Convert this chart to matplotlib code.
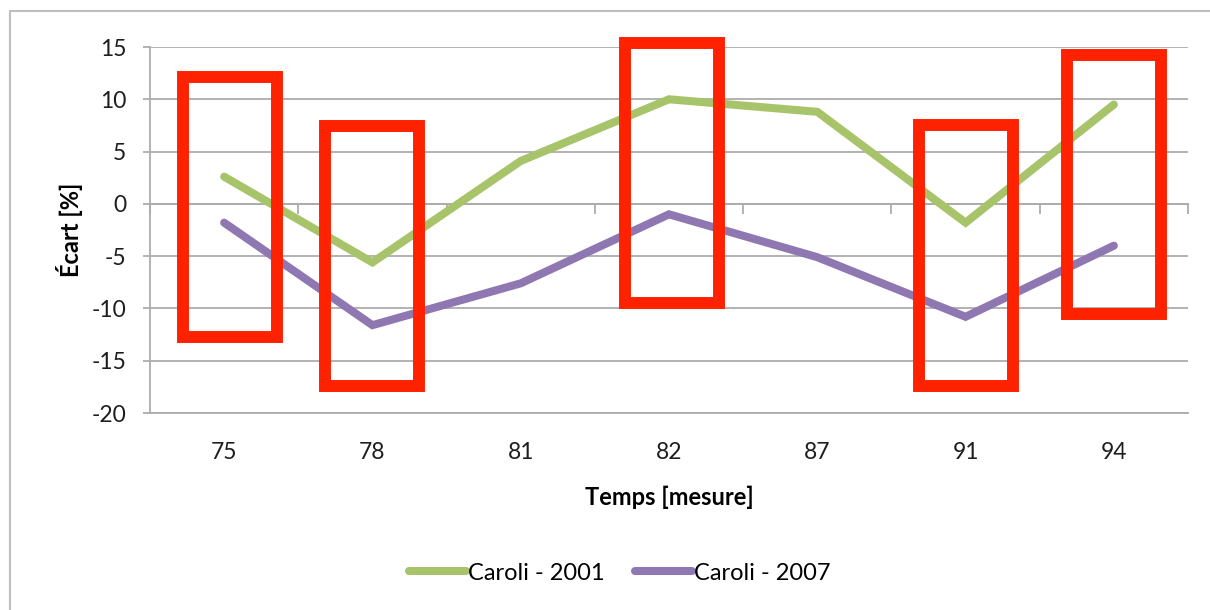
import matplotlib.pyplot as plt
from matplotlib.patches import Rectangle
import numpy as np

# values
cats = ['75', '78', '81', '82', '87', '91', '94']
caroli_2001 = [2.6, -5.6, 4.1, 10.0, 8.8, -1.8, 9.5]
caroli_2007 = [-1.8, -11.6, -7.6, -1.0, -5.1, -10.8, -4.0]

# red highlight boxes: category index, bottom, top (data units)
box_cat = [0.04, 1, 3.02, 5, 6]
box_low = [-12.7, -17.4, -9.5, -17.4, -10.5]
box_high = [12.1, 7.4, 15.4, 7.5, 14.2]
box_halfwidth = 0.317

green = '#A8C46A'
purple = '#8F77B1'
red = '#FF2200'
grid_grey = '#ACACAC'

plt.rcParams['font.family'] = ['Lato', 'DejaVu Sans']
plt.rcParams['axes.unicode_minus'] = False

fig = plt.figure(figsize=(12.1, 6.1), dpi=100)
ax = fig.add_axes([150/1210, 1-413/610, 1038/1210, 366/610])

x = np.arange(len(cats))
ax.plot(x, caroli_2001, color=green, lw=5.8, solid_capstyle='round',
        solid_joinstyle='miter', label='Caroli - 2001', zorder=3)
ax.plot(x, caroli_2007, color=purple, lw=5.8, solid_capstyle='round',
        solid_joinstyle='miter', label='Caroli - 2007', zorder=3)

for c, lo, hi in zip(box_cat, box_low, box_high):
    ax.add_patch(Rectangle((c - box_halfwidth, lo), 2*box_halfwidth, hi - lo,
                           fill=False, edgecolor=red, lw=8.6,
                           joinstyle='miter', clip_on=False, zorder=4))

ax.set_xlim(-0.5, len(cats) - 0.5)
ax.set_ylim(-20, 15)
ax.set_yticks(range(-20, 16, 5))
ax.set_xticks(x)
ax.set_xticklabels(cats)
ax.yaxis.grid(True, color=grid_grey, lw=1.3)
ax.set_axisbelow(True)

for s in ['top', 'right']:
    ax.spines[s].set_visible(False)
ax.spines['left'].set_color(grid_grey)
ax.spines['left'].set_linewidth(1.3)
ax.spines['bottom'].set_color(grid_grey)
ax.spines['bottom'].set_linewidth(1.3)

ax.tick_params(axis='y', direction='out', length=5, width=1.3, color=grid_grey,
               labelsize=16.5, pad=12, labelcolor='#1E1E1E')
ax.tick_params(axis='x', length=0, labelsize=16.5, pad=21, labelcolor='#1E1E1E')

# category axis crossing at zero, with boundary tick marks
sec = ax.secondary_xaxis(0, transform=ax.transData)
sec.spines['bottom'].set_color(grid_grey)
sec.spines['bottom'].set_linewidth(1.3)
sec.set_xticks(np.arange(-0.5, len(cats), 1.0))
sec.set_xticklabels([])
sec.tick_params(direction='out', length=7, width=1.3, color=grid_grey)

ax.set_ylabel('Écart [%]', fontsize=17, fontweight='bold', labelpad=6)
ax.set_xlabel('Temps [mesure]', fontsize=17, fontweight='bold', labelpad=16)

leg = fig.legend(loc='center', bbox_to_anchor=(620/1210, 1-573/610), ncol=2,
                 frameon=False, fontsize=17, handlelength=2.4, handletextpad=0.1,
                 columnspacing=1.3)
for h in leg.get_lines():
    h.set_linewidth(5.8)
    h.set_solid_capstyle('round')

# outer chart frame
fig.patches.append(Rectangle((10/1210, -0.1), 1.2, 1-11/610 + 0.1,
                             transform=fig.transFigure, fill=False,
                             edgecolor='#BEBEBE', lw=1.5))

fig.savefig('out.png', dpi=100)
